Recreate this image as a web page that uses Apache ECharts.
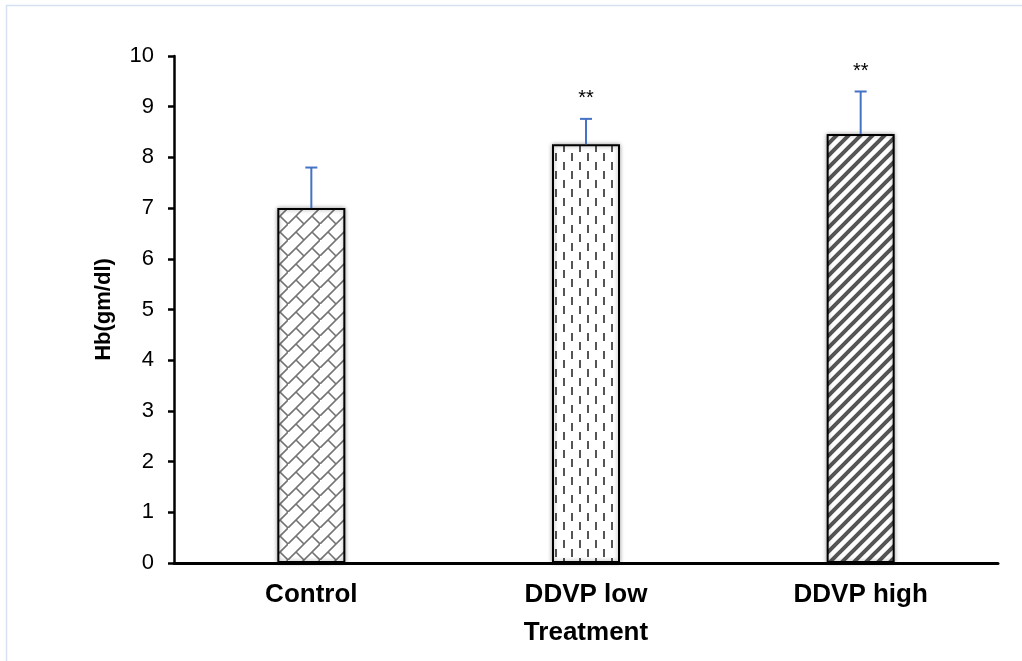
<!DOCTYPE html>
<html>
<head>
<meta charset="utf-8">
<script src="https://cdn.jsdelivr.net/npm/echarts@6/dist/echarts.min.js"></script>
<style>
  html, body { margin: 0; padding: 0; background: #fff; }
  #chart { width: 1022px; height: 661px; }
</style>
</head>
<body>
<div id="chart"></div>
<script>
  // data
  var categories = ['Control', 'DDVP low', 'DDVP high'];
  var means = [7.0, 8.26, 8.46];
  var errTops = [7.80, 8.76, 9.30];
  var marks = ['', '**', '**'];
  var yTicks = [0, 10, 1]; // min, max, step

  // pattern tiles like excel fills
  function makeTile(w, h, draw) {
    var c = document.createElement('canvas');
    c.width = w;
    c.height = h;
    var ctx = c.getContext('2d');
    ctx.fillStyle = '#fff';
    ctx.fillRect(0, 0, w, h);
    draw(ctx);
    return c;
  }

  // diagonal brick
  var brick = makeTile(32, 16, function (ctx) {
    ctx.strokeStyle = '#737373';
    ctx.lineWidth = 1.6;
    ctx.beginPath();
    ctx.moveTo(-2, 18); ctx.lineTo(18, -2);
    ctx.moveTo(14, 18); ctx.lineTo(34, -2);
    ctx.moveTo(8, 8); ctx.lineTo(16, 16);
    ctx.moveTo(24, 8); ctx.lineTo(32, 16);
    ctx.stroke();
  });

  var dashes = makeTile(16, 18, function (ctx) {
    ctx.fillStyle = '#555';
    ctx.fillRect(3, 0, 2, 8);
    ctx.fillRect(11, 9, 2, 8);
  });

  var stripes = makeTile(12, 12, function (ctx) {
    ctx.strokeStyle = '#555';
    ctx.lineWidth = 4;
    ctx.beginPath();
    ctx.moveTo(-6, 18); ctx.lineTo(18, -6);
    ctx.moveTo(-6, 6); ctx.lineTo(6, -6);
    ctx.moveTo(6, 18); ctx.lineTo(18, 6);
    ctx.stroke();
  });

  var fills = [brick, dashes, stripes];

  var barData = [];
  for (var i = 0; i < means.length; i++) {
    barData.push({
      value: means[i],
      itemStyle: {
        color: { image: fills[i], repeat: 'repeat' },
        borderColor: '#000',
        borderWidth: 2,
        shadowBlur: 4,
        shadowColor: 'rgba(0,0,0,0.35)'
      }
    });
  }

  var errData = [];
  for (var j = 0; j < means.length; j++) {
    errData.push([j, means[j], errTops[j], marks[j]]);
  }

  var chartObj = echarts.init(document.getElementById('chart'));
  var option = {
    backgroundColor: '#fff',
    animation: false,
    textStyle: { fontFamily: '"Liberation Sans", Arial, sans-serif' },
    graphic: [{
      type: 'rect',
      silent: true,
      shape: { x: 6.5, y: 5.5, width: 1200, height: 1000 },
      style: { fill: 'none', stroke: '#d5e1f1', lineWidth: 1.5 }
    }],
    grid: { left: 174, right: 24, top: 56, bottom: 98 },
    xAxis: {
      type: 'category',
      data: categories,
      name: 'Treatment',
      nameLocation: 'middle',
      nameGap: 57,
      nameTextStyle: { color: '#000', fontSize: 26, fontWeight: 'bold' },
      axisLine: { lineStyle: { color: '#000', width: 3 } },
      axisTick: { show: false },
      axisLabel: { color: '#000', fontSize: 26, fontWeight: 'bold', margin: 19 }
    },
    yAxis: {
      type: 'value',
      min: yTicks[0],
      max: yTicks[1],
      interval: yTicks[2],
      name: 'Hb(gm/dl)',
      nameLocation: 'middle',
      nameGap: 59,
      nameTextStyle: { color: '#000', fontSize: 22, fontWeight: 'bold' },
      axisLine: { show: true, lineStyle: { color: '#000', width: 2.5 } },
      axisTick: { show: true, inside: false, length: 6, lineStyle: { color: '#000', width: 2.5 } },
      axisLabel: { color: '#000', fontSize: 22, margin: 20 },
      splitLine: { show: false }
    },
    series: [
      {
        type: 'bar',
        barWidth: 68,
        data: barData,
        z: 2
      },
      {
        type: 'custom',
        z: 3,
        data: errData,
        renderItem: function (params, api) {
          var lo = api.coord([api.value(0), api.value(1)]);
          var hi = api.coord([api.value(0), api.value(2)]);
          var half = 6;
          var st = { stroke: '#4472c4', lineWidth: 2 };
          var kids = [
            { type: 'line', shape: { x1: lo[0], y1: lo[1], x2: hi[0], y2: hi[1] }, style: st },
            { type: 'line', shape: { x1: hi[0] - half, y1: hi[1], x2: hi[0] + half, y2: hi[1] }, style: st }
          ];
          var mark = errData[params.dataIndex][3];
          if (mark) {
            kids.push({
              type: 'text',
              style: {
                x: hi[0], y: hi[1] - 20, text: mark,
                fill: '#000', font: '20px "Liberation Sans", Arial, sans-serif',
                align: 'center', verticalAlign: 'middle'
              }
            });
          }
          return { type: 'group', children: kids };
        }
      }
    ]
  };
  chartObj.setOption(option, true);
</script>
</body>
</html>
